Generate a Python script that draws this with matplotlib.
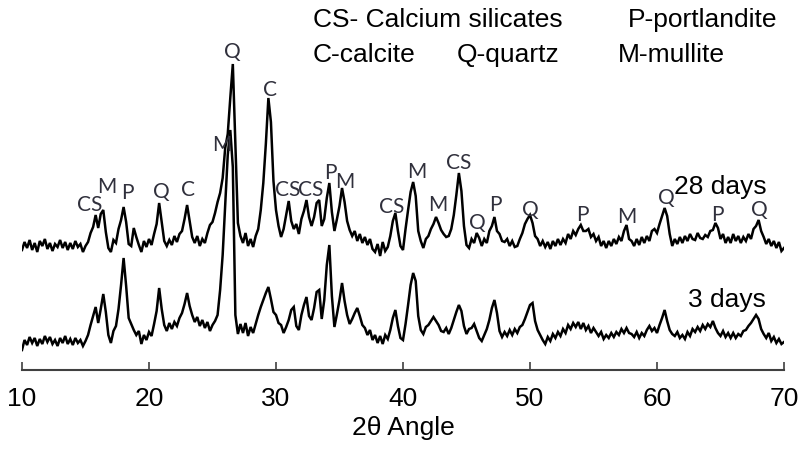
import numpy as np
import matplotlib
matplotlib.use('Agg')
import matplotlib.pyplot as plt

# 2-theta grid, 0.2 deg step (301 points)
angle = np.round(np.arange(10.0, 70.0001, 0.2), 1)

# intensities (arbitrary units, already offset for stacking)
days28 = [
    120, 128, 122, 130, 120, 127, 118, 129, 124, 131,
    121, 127, 119, 126, 123, 130, 122, 128, 120, 127,
    121, 129, 123, 126, 118, 124, 128, 137, 143, 155,
    142, 156, 160, 138, 122, 118, 130, 127, 141, 150,
    163, 148, 126, 124, 142, 133, 125, 118, 129, 123,
    131, 125, 136, 146, 167, 148, 129, 124, 130, 125,
    134, 128, 136, 139, 151, 165, 149, 133, 127, 134,
    124, 131, 127, 137, 145, 148, 157, 168, 177, 192,
    222, 236, 272, 306, 228, 147, 134, 127, 137, 124,
    131, 123, 134, 141, 160, 187, 226, 272, 248, 189,
    160, 144, 133, 141, 155, 169, 149, 141, 146, 136,
    151, 159, 170, 153, 144, 153, 167, 170, 144, 151,
    172, 187, 158, 139, 151, 164, 182, 168, 149, 140,
    134, 139, 129, 136, 127, 133, 125, 131, 121, 118,
    126, 114, 128, 119, 123, 134, 149, 157, 139, 124,
    120, 141, 160, 178, 188, 174, 139, 129, 122, 131,
    134, 141, 146, 153, 147, 140, 136, 133, 134, 141,
    155, 175, 197, 179, 144, 125, 122, 131, 127, 137,
    132, 124, 131, 127, 139, 144, 153, 139, 136, 129,
    128, 131, 124, 129, 123, 124, 131, 137, 146, 151,
    155, 147, 134, 131, 124, 129, 123, 128, 121, 129,
    124, 131, 125, 131, 127, 136, 131, 139, 135, 141,
    145, 139, 139, 141, 133, 136, 129, 133, 124, 129,
    122, 129, 124, 131, 126, 133, 129, 139, 145, 131,
    129, 124, 131, 125, 133, 127, 134, 129, 139, 141,
    137, 146, 154, 162, 154, 136, 124, 131, 126, 133,
    127, 134, 129, 136, 131, 130, 137, 132, 131, 135,
    133, 139, 140, 147, 142, 131, 136, 127, 133, 127,
    136, 129, 134, 127, 133, 129, 136, 131, 141, 144,
    150, 139, 133, 126, 131, 124, 129, 122, 128, 119,
    122,
]

days3 = [
    20, 30, 25, 33, 27, 32, 24, 31, 26, 34,
    28, 33, 26, 30, 24, 32, 27, 34, 26, 31,
    25, 32, 27, 30, 24, 29, 35, 45, 54, 63,
    47, 61, 76, 58, 35, 27, 39, 44, 61, 85,
    112, 84, 52, 46, 40, 35, 39, 26, 35, 30,
    38, 34, 46, 59, 82, 61, 45, 39, 47, 41,
    48, 44, 52, 57, 66, 77, 64, 55, 48, 53,
    44, 50, 42, 48, 39, 45, 49, 55, 80, 115,
    165, 215, 240, 203, 55, 36, 46, 37, 47, 34,
    43, 37, 46, 55, 63, 70, 77, 83, 71, 58,
    55, 47, 45, 37, 43, 50, 60, 63, 44, 40,
    55, 65, 73, 54, 50, 62, 78, 80, 51, 70,
    105, 125, 74, 43, 56, 70, 87, 69, 55, 46,
    51, 57, 62, 54, 45, 42, 35, 40, 30, 35,
    27, 34, 26, 35, 31, 40, 52, 60, 44, 32,
    30, 46, 65, 85, 97, 89, 54, 40, 36, 43,
    45, 49, 53, 49, 45, 39, 38, 42, 36, 42,
    50, 58, 65, 59, 44, 36, 41, 42, 46, 39,
    32, 29, 35, 41, 50, 62, 70, 57, 39, 33,
    38, 34, 40, 35, 41, 37, 43, 45, 51, 58,
    65, 67, 49, 40, 35, 30, 26, 33, 29, 36,
    32, 38, 34, 41, 37, 45, 41, 47, 43, 48,
    41, 47, 40, 44, 37, 42, 38, 34, 38, 31,
    35, 32, 37, 33, 38, 35, 41, 37, 42, 37,
    36, 33, 38, 32, 37, 34, 40, 44, 39, 42,
    37, 45, 52, 60, 49, 40, 36, 34, 38, 32,
    35, 31, 38, 34, 41, 38, 43, 39, 45, 41,
    46, 43, 49, 42, 37, 34, 39, 33, 37, 32,
    37, 32, 36, 34, 39, 40, 44, 47, 51, 55,
    51, 41, 36, 32, 37, 29, 33, 27, 31, 26,
    28,
]

# phase labels: text, 2theta, height
peak_text = ['CS', 'M', 'P', 'Q', 'C', 'M', 'Q', 'C', 'CS', 'CS', 'P', 'M',
             'CS', 'M', 'M', 'CS', 'Q', 'P', 'Q', 'P', 'M', 'Q', 'P', 'Q']
peak_pos = [15.35, 16.7, 18.27, 21.0, 23.07, 25.75, 26.6, 29.53, 30.94, 32.76,
            34.25, 35.43, 39.13, 41.1, 42.76, 44.41, 45.83, 47.24, 50.0, 54.09,
            57.64, 60.71, 64.72, 68.03]
peak_h = [165, 183, 177, 178, 180, 225, 318, 280, 180, 180, 197, 188,
          163, 198, 165, 207, 147, 165, 160, 155, 153, 172, 155, 160]

xticks = [10, 20, 30, 40, 50, 60, 70]

fig = plt.figure(figsize=(8.02, 4.49), dpi=100)
ax = fig.add_axes([22 / 802, 79 / 449, 762 / 802, 370 / 449])

ax.plot(angle, days28, color='black', lw=1.8, solid_joinstyle='miter')
ax.plot(angle, days3, color='black', lw=1.8, solid_joinstyle='miter')

for t, x, y in zip(peak_text, peak_pos, peak_h):
    ax.text(x, y, t, ha='center', va='center', fontsize=15,
            family=['Lato', 'DejaVu Sans'], color='#30303c')

ax.text(68.6, 183, '28 days', ha='right', va='center', fontsize=19,
        family='Liberation Sans')
ax.text(68.6, 70, '3 days', ha='right', va='center', fontsize=19,
        family='Liberation Sans')

ax.set_xlim(10, 70)
ax.set_ylim(0, 370)
ax.set_xticks(xticks)
ax.set_xticklabels([str(v) for v in xticks], fontsize=19, family='Liberation Sans')
ax.tick_params(axis='x', direction='in', length=6, width=1.2, color='#404040', pad=12)
ax.set_yticks([])
for s in ['top', 'right', 'left']:
    ax.spines[s].set_visible(False)
ax.spines['bottom'].set_color('#404040')
ax.spines['bottom'].set_linewidth(1.5)
ax.patch.set_alpha(0)

fig.text(403 / 802, 1 - 428 / 449, '2θ Angle', ha='center', va='center',
         fontsize=19, family='Liberation Sans')

# key
fig.text(313 / 802, 1 - 20 / 449, 'CS- Calcium silicates', ha='left', va='center',
         fontsize=19, family='Liberation Sans')
fig.text(628 / 802, 1 - 20 / 449, 'P-portlandite', ha='left', va='center',
         fontsize=19, family='Liberation Sans')
fig.text(313 / 802, 1 - 55 / 449, 'C-calcite', ha='left', va='center',
         fontsize=19, family='Liberation Sans')
fig.text(457 / 802, 1 - 55 / 449, 'Q-quartz', ha='left', va='center',
         fontsize=19, family='Liberation Sans')
fig.text(618 / 802, 1 - 55 / 449, 'M-mullite', ha='left', va='center',
         fontsize=19, family='Liberation Sans')

fig.savefig('out.png', dpi=100)
